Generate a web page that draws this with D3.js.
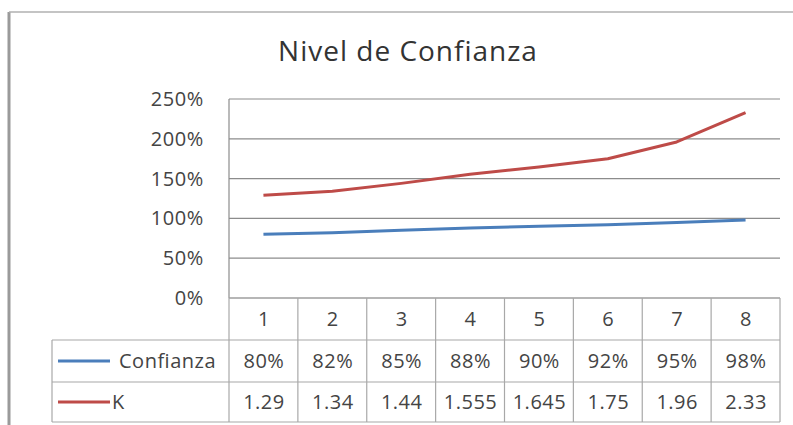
<!DOCTYPE html>
<html><head><meta charset="utf-8">
<script src="https://cdn.jsdelivr.net/npm/d3@7"></script>
<style>body{margin:0;background:#fff}svg{display:block}</style>
</head><body><svg id="c" width="793" height="425"></svg>
<script>
const title = "Nivel de Confianza";
const categories = ["1","2","3","4","5","6","7","8"];
const confianza = [0.80,0.82,0.85,0.88,0.90,0.92,0.95,0.98];
const confianzaLabels = ["80%","82%","85%","88%","90%","92%","95%","98%"];
const kValues = [1.29,1.34,1.44,1.555,1.645,1.75,1.96,2.33];
const kLabels = ["1.29","1.34","1.44","1.555","1.645","1.75","1.96","2.33"];
const yTicks = [0,0.5,1,1.5,2,2.5];
const seriesNames = ["Confianza","K"];
const colors = ["#4a7ebb","#be4b48"];

const svg = d3.select("#c");
const font = "'Open Sans', 'Noto Sans', sans-serif";
const L = 229, R = 780, T = 99, B = 298;
const x = d3.scaleBand().domain(categories).range([L, R]);
const y = d3.scaleLinear().domain([0, 2.5]).range([B, T]);

// outer frame
svg.append("line").attr("x1",9).attr("x2",9).attr("y1",12).attr("y2",425).attr("stroke","#9a9a9a").attr("stroke-width",3);
svg.append("line").attr("x1",9).attr("x2",793).attr("y1",12).attr("y2",12).attr("stroke","#b0b0b0").attr("stroke-width",1.5);

svg.append("text").attr("x",408).attr("y",61).attr("text-anchor","middle")
  .attr("font-family",font).attr("font-size",28).attr("letter-spacing",1).attr("fill","#333").text(title);

// gridlines
svg.append("g").selectAll("line").data(yTicks).join("line")
  .attr("x1",L).attr("x2",R).attr("y1",d=>y(d)).attr("y2",d=>y(d))
  .attr("stroke","#8c8c8c").attr("stroke-width",1.2);
svg.append("line").attr("x1",L).attr("x2",L).attr("y1",T).attr("y2",B).attr("stroke","#8c8c8c").attr("stroke-width",1.2);

// y axis labels
svg.append("g").selectAll("text").data(yTicks).join("text")
  .attr("x",204).attr("y",d=>y(d)).attr("dy","0.35em").attr("text-anchor","end")
  .attr("font-family",font).attr("font-size",20).attr("letter-spacing",0.6).attr("fill","#444")
  .text(d=>d3.format(".0%")(d));

// lines
const line = d3.line().x((d,i)=>x(categories[i])+x.bandwidth()/2).y(d=>y(d));
[confianza,kValues].forEach((s,i)=>{
  svg.append("path").datum(s).attr("d",line).attr("fill","none")
    .attr("stroke",colors[i]).attr("stroke-width",3).attr("stroke-linejoin","round");
});

// data table
const rows = [298,340,382,422];
const tb = svg.append("g").attr("stroke","#a8a8a8").attr("stroke-width",1.2);
tb.append("line").attr("x1",L).attr("x2",R).attr("y1",rows[0]).attr("y2",rows[0]);
[1,2,3].forEach(r=>tb.append("line").attr("x1",52).attr("x2",R).attr("y1",rows[r]).attr("y2",rows[r]));
tb.append("line").attr("x1",52).attr("x2",52).attr("y1",rows[1]).attr("y2",rows[3]);
categories.forEach(c=>tb.append("line").attr("x1",x(c)).attr("x2",x(c)).attr("y1",rows[0]).attr("y2",rows[3]));
tb.append("line").attr("x1",R).attr("x2",R).attr("y1",rows[0]).attr("y2",rows[3]);

const cellText = (labels,r)=>svg.append("g").selectAll("text").data(labels).join("text")
  .attr("x",(d,i)=>x(categories[i])+x.bandwidth()/2+0.5).attr("y",(rows[r]+rows[r+1])/2).attr("dy","0.36em")
  .attr("text-anchor","middle").attr("font-family",font).attr("font-size",20).attr("letter-spacing",0.5)
  .attr("fill","#444").text(d=>d);
cellText(categories,0);
cellText(confianzaLabels,1);
cellText(kLabels,2);

// legend keys
seriesNames.forEach((n,i)=>{
  const cy = (rows[i+1]+rows[i+2])/2;
  svg.append("line").attr("x1",58).attr("x2",110).attr("y1",cy).attr("y2",cy).attr("stroke",colors[i]).attr("stroke-width",3);
  svg.append("text").attr("x",i===0?119:112).attr("y",cy).attr("dy","0.36em")
    .attr("font-family",font).attr("font-size",20).attr("letter-spacing",0.5).attr("fill","#444").text(n);
});
</script></body></html>
